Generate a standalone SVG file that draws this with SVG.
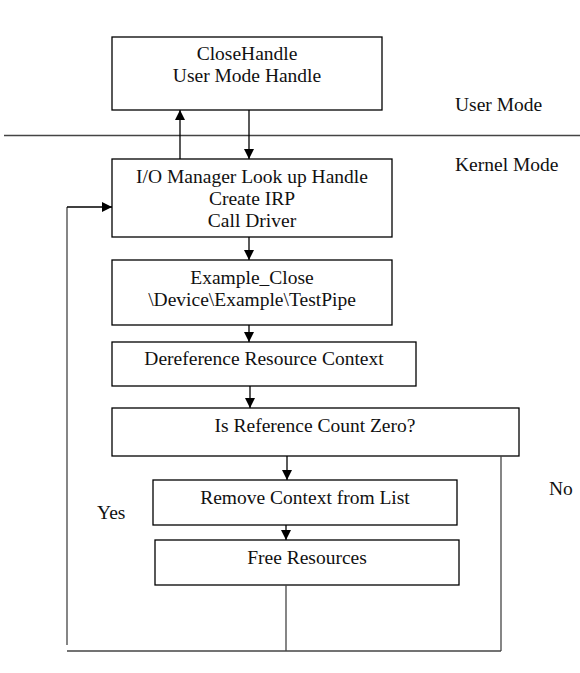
<svg xmlns="http://www.w3.org/2000/svg" width="580" height="673" viewBox="0 0 580 673">
<style>
  .box{fill:#fff;stroke:#000;stroke-width:1.3}
  .t{font-family:"Liberation Serif","Times New Roman",serif;font-size:19.5px;fill:#111;text-anchor:middle}
  .l{font-family:"Liberation Serif","Times New Roman",serif;font-size:19.5px;fill:#111}
  .c{stroke:#000;stroke-width:1.3;fill:none}
  .g{stroke:#444;stroke-width:1.3;fill:none}
</style>
<defs>
  <marker id="arr" viewBox="0 0 10 10" refX="10" refY="5" markerWidth="10" markerHeight="10" markerUnits="userSpaceOnUse" orient="auto">
    <path d="M0,0 L10,5 L0,10 Z" fill="#000"/>
  </marker>
</defs>
<rect width="580" height="673" fill="#fff"/>
<line x1="4" y1="135.5" x2="580" y2="135.5" class="g"/>
<text class="l" x="455" y="111">User Mode</text>
<text class="l" x="455" y="171">Kernel Mode</text>
<text class="l" x="97" y="519">Yes</text>
<text class="l" x="549" y="495">No</text>
<g id="n1"><rect class="box" x="112" y="37" width="270" height="73"/>
<text class="t" x="247" y="60">CloseHandle</text><text class="t" x="247" y="82">User Mode Handle</text></g>
<g id="n2"><rect class="box" x="112" y="159" width="280" height="78"/>
<text class="t" x="252" y="183">I/O Manager Look up Handle</text><text class="t" x="252" y="205">Create IRP</text><text class="t" x="252" y="227">Call Driver</text></g>
<g id="n3"><rect class="box" x="112" y="260" width="280" height="65"/>
<text class="t" x="252" y="284">Example_Close</text><text class="t" x="252" y="306">\Device\Example\TestPipe</text></g>
<g id="n4"><rect class="box" x="112" y="342" width="304" height="44"/>
<text class="t" x="264" y="365">Dereference Resource Context</text></g>
<g id="n5"><rect class="box" x="112" y="408" width="407" height="48"/>
<text class="t" x="315" y="432">Is Reference Count Zero?</text></g>
<g id="n6"><rect class="box" x="153" y="480" width="304" height="45"/>
<text class="t" x="305" y="504">Remove Context from List</text></g>
<g id="n7"><rect class="box" x="155" y="540" width="304" height="45"/>
<text class="t" x="307" y="564">Free Resources</text></g>
<g id="connectors">
  <line class="c" x1="180" y1="159" x2="180" y2="110" marker-end="url(#arr)"/>
  <line class="c" x1="249" y1="110" x2="249" y2="159" marker-end="url(#arr)"/>
  <line class="c" x1="249" y1="237" x2="249" y2="260" marker-end="url(#arr)"/>
  <line class="c" x1="249" y1="325" x2="249" y2="342" marker-end="url(#arr)"/>
  <line class="c" x1="250" y1="386" x2="250" y2="408" marker-end="url(#arr)"/>
  <line class="c" x1="287" y1="456" x2="287" y2="480" marker-end="url(#arr)"/>
  <line class="c" x1="286" y1="525" x2="286" y2="540" marker-end="url(#arr)"/>
  <line class="g" x1="286" y1="585" x2="286" y2="651"/>
  <line class="g" x1="501" y1="456" x2="501" y2="651"/>
  <line class="g" x1="67" y1="651" x2="501" y2="651"/>
  <line class="g" x1="67" y1="645" x2="67" y2="207"/>
  <line class="c" x1="67" y1="207" x2="112" y2="207" marker-end="url(#arr)"/>
</g>
</svg>
